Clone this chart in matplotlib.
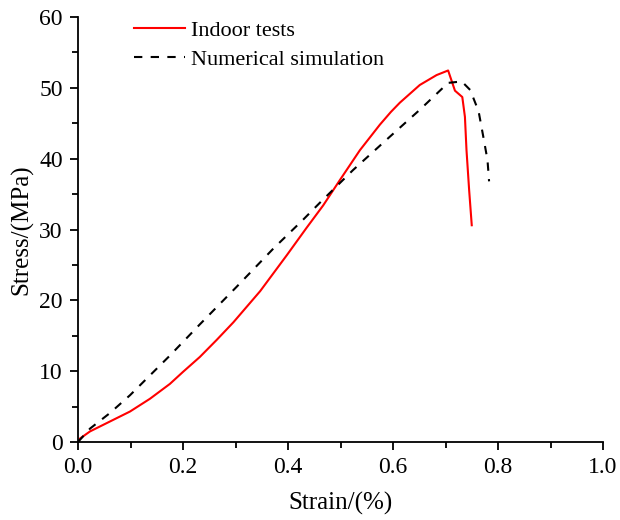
import matplotlib.pyplot as plt
from matplotlib.ticker import MultipleLocator

# Indoor test curve (strain %, stress MPa)
test_strain = [0.0, 0.004, 0.023, 0.061, 0.099, 0.137, 0.175, 0.2, 0.232, 0.264,
               0.296, 0.347, 0.398, 0.435, 0.467, 0.499, 0.537, 0.575, 0.596, 0.613,
               0.651, 0.683, 0.705, 0.718, 0.732, 0.737, 0.740, 0.745, 0.750]
test_stress = [0.0, 0.5, 1.5, 2.9, 4.3, 6.1, 8.2, 9.9, 12.0, 14.4,
               16.9, 21.3, 26.4, 30.2, 33.4, 37.0, 41.2, 44.8, 46.6, 47.9,
               50.4, 51.8, 52.45, 49.6, 48.7, 45.9, 41.2, 35.6, 30.6]

# Numerical simulation curve
sim_strain = [0.0, 0.023, 0.061, 0.099, 0.137, 0.175, 0.232, 0.302, 0.372, 0.429,
              0.461, 0.524, 0.588, 0.651, 0.705, 0.731, 0.747, 0.763, 0.772, 0.780,
              0.783]
sim_stress = [0.0, 1.9, 4.1, 6.6, 9.4, 12.2, 16.6, 21.9, 27.3, 31.4,
              33.8, 38.4, 42.7, 46.9, 50.7, 50.9, 49.7, 46.7, 43.1, 39.8,
              36.8]

plt.rcParams['font.family'] = ['Liberation Serif', 'DejaVu Serif']

fig = plt.figure(figsize=(6.2, 5.2), dpi=100)
ax = fig.add_axes([78 / 620, 78 / 520, 525 / 620, 425 / 520])

ax.plot(test_strain, test_stress, color='red', lw=1.5, label='Indoor tests')
ax.plot(sim_strain, sim_stress, color='black', lw=1.5, ls=(0, (4, 4)), label='Numerical simulation')

ax.set_xlim(0, 1.0)
ax.set_ylim(0, 60)
ax.xaxis.set_major_locator(MultipleLocator(0.2))
ax.xaxis.set_minor_locator(MultipleLocator(0.1))
ax.yaxis.set_major_locator(MultipleLocator(10))
ax.yaxis.set_minor_locator(MultipleLocator(5))
ax.xaxis.set_major_formatter(plt.FuncFormatter(lambda v, p: f'{v:.1f}'))

ax.spines['top'].set_visible(False)
ax.spines['right'].set_visible(False)
for s in ['left', 'bottom']:
    ax.spines[s].set_linewidth(1.3)
ax.tick_params(which='major', direction='out', length=6, width=1.3, labelsize=17, pad=5)
ax.tick_params(which='minor', direction='out', length=4, width=1.3)

ax.set_xlabel('Strain/(%)', fontsize=18, labelpad=10)
ax.set_ylabel('Stress/(MPa)', fontsize=18, labelpad=4)

ax.legend(loc='upper left', bbox_to_anchor=(0.068, 1.04), frameon=False, fontsize=16,
          handlelength=2.3, handletextpad=0.3, labelspacing=0.4)

fig.savefig('out.png', dpi=100)
